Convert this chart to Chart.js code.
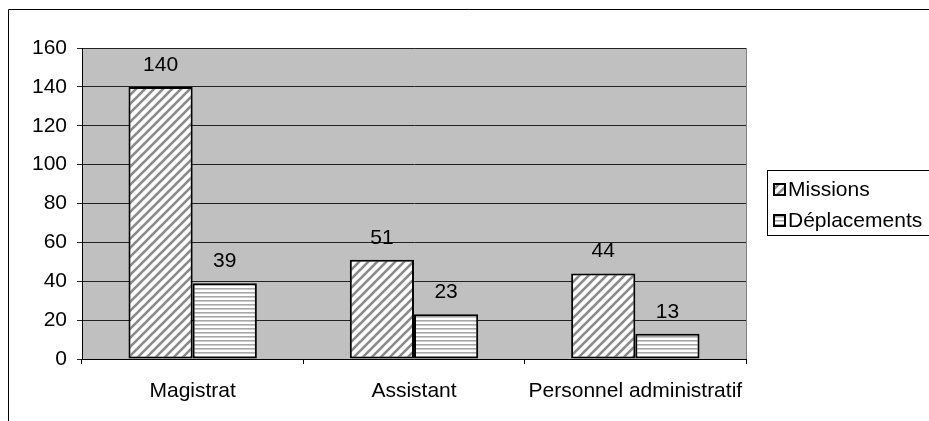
<!DOCTYPE html>
<html>
<head>
<meta charset="utf-8">
<script src="https://cdn.jsdelivr.net/npm/chart.js@4/dist/chart.umd.min.js"></script>
<style>
  html, body { margin: 0; padding: 0; background: #fff; }
  #wrap { width: 929px; height: 421px; }
</style>
</head>
<body>
<div id="wrap"><canvas id="c" width="929" height="421"></canvas></div>
<script>
// Staff categories and counts
const categories = ['Magistrat', 'Assistant', 'Personnel administratif'];
const missions = [140, 51, 44];
const deplacements = [39, 23, 13];
const seriesNames = ['Missions', 'Déplacements'];
const yTicks = [0, 20, 40, 60, 80, 100, 120, 140, 160];

const FONT = 'Liberation Sans, Arial, sans-serif';
const FONT_SIZE = 21;

// Hatch fills: diagonal stripes and horizontal stripes
function diagonalPattern() {
  const s = 9;
  const t = document.createElement('canvas');
  t.width = s; t.height = s;
  const g = t.getContext('2d');
  g.fillStyle = '#fff';
  g.fillRect(0, 0, s, s);
  g.strokeStyle = '#8a8a8a';
  g.lineWidth = 2.6;
  g.beginPath();
  for (let k = -1; k <= 1; k++) {
    g.moveTo(k * s - 1, s + 1);
    g.lineTo(k * s + s + 1, -1);
  }
  g.stroke();
  return g.createPattern(t, 'repeat');
}
function horizontalPattern() {
  const t = document.createElement('canvas');
  t.width = 4; t.height = 4;
  const g = t.getContext('2d');
  g.fillStyle = '#fff';
  g.fillRect(0, 0, 4, 4);
  g.fillStyle = '#a8a8a8';
  g.fillRect(0, 0, 4, 1.6);
  return g.createPattern(t, 'repeat');
}
const fills = [diagonalPattern(), horizontalPattern()];

// Outer frame and grey plot background
const framePlugin = {
  id: 'frame',
  beforeDraw(chart) {
    const ctx = chart.ctx;
    const a = chart.chartArea;
    ctx.save();
    ctx.strokeStyle = '#000';
    ctx.lineWidth = 1;
    ctx.beginPath();
    ctx.moveTo(8.5, 421);
    ctx.lineTo(8.5, 9.5);
    ctx.lineTo(929, 9.5);
    ctx.stroke();
    ctx.fillStyle = '#c0c0c0';
    ctx.fillRect(a.left, a.top, a.right - a.left, a.bottom - a.top);
    ctx.strokeStyle = '#808080';
    ctx.strokeRect(Math.round(a.left) + 0.5, Math.round(a.top) + 0.5,
                   Math.round(a.right - a.left), Math.round(a.bottom - a.top));
    ctx.restore();
  }
};

// Value labels above each bar, plus the boxed legend on the right
const labelPlugin = {
  id: 'valueLabels',
  afterDatasetsDraw(chart) {
    const ctx = chart.ctx;
    ctx.save();
    ctx.font = FONT_SIZE + 'px ' + FONT;
    ctx.fillStyle = '#000';
    ctx.textAlign = 'center';
    ctx.textBaseline = 'middle';
    chart.data.datasets.forEach((ds, i) => {
      chart.getDatasetMeta(i).data.forEach((bar, j) => {
        ctx.fillText(String(ds.data[j]), bar.x, bar.y - 22);
      });
    });
    ctx.restore();
  },
  afterDraw(chart) {
    const ctx = chart.ctx;
    ctx.save();
    ctx.strokeStyle = '#000';
    ctx.lineWidth = 1;
    ctx.fillStyle = '#fff';
    ctx.fillRect(767, 170, 170, 65);
    ctx.strokeRect(767.5, 170.5, 170, 65);
    ctx.font = FONT_SIZE + 'px ' + FONT;
    ctx.textBaseline = 'middle';
    ctx.textAlign = 'left';
    chart.data.datasets.forEach((ds, i) => {
      const cy = 189 + i * 31;
      ctx.fillStyle = ds.backgroundColor;
      ctx.fillRect(773, cy - 6, 13, 13);
      ctx.lineWidth = 2;
      ctx.strokeRect(774, cy - 5, 11, 11);
      ctx.fillStyle = '#000';
      ctx.fillText(ds.label, 788, cy + 1);
    });
    ctx.restore();
  }
};

new Chart(document.getElementById('c'), {
  type: 'bar',
  data: {
    labels: categories,
    datasets: [
      { label: seriesNames[0], data: missions, backgroundColor: fills[0],
        borderColor: '#000', borderWidth: 2, borderSkipped: false },
      { label: seriesNames[1], data: deplacements, backgroundColor: fills[1],
        borderColor: '#000', borderWidth: 2, borderSkipped: false }
    ]
  },
  options: {
    responsive: false,
    animation: false,
    devicePixelRatio: 1,
    layout: { padding: { top: 48, right: 183, left: 0, bottom: 0 } },
    datasets: { bar: { categoryPercentage: 0.58, barPercentage: 1 } },
    plugins: {
      legend: { display: false },
      tooltip: { enabled: false }
    },
    scales: {
      x: {
        grid: { offset: true, drawOnChartArea: false, drawTicks: true,
                tickLength: 5, color: '#000' },
        border: { color: '#000', width: 1 },
        ticks: { color: '#000', font: { family: FONT, size: FONT_SIZE }, padding: 15,
                 maxRotation: 0, autoSkip: false },
        afterFit(s) { s.height = 62; }
      },
      y: {
        min: 0, max: 160,
        afterBuildTicks(s) { s.ticks = yTicks.map(v => ({ value: v })); },
        grid: { color: '#222', tickLength: 5, drawTicks: true },
        border: { color: '#000', width: 1 },
        ticks: { color: '#000', font: { family: FONT, size: FONT_SIZE }, padding: 10 },
        afterFit(s) { s.width = 82; }
      }
    }
  },
  plugins: [framePlugin, labelPlugin]
});
</script>
</body>
</html>
